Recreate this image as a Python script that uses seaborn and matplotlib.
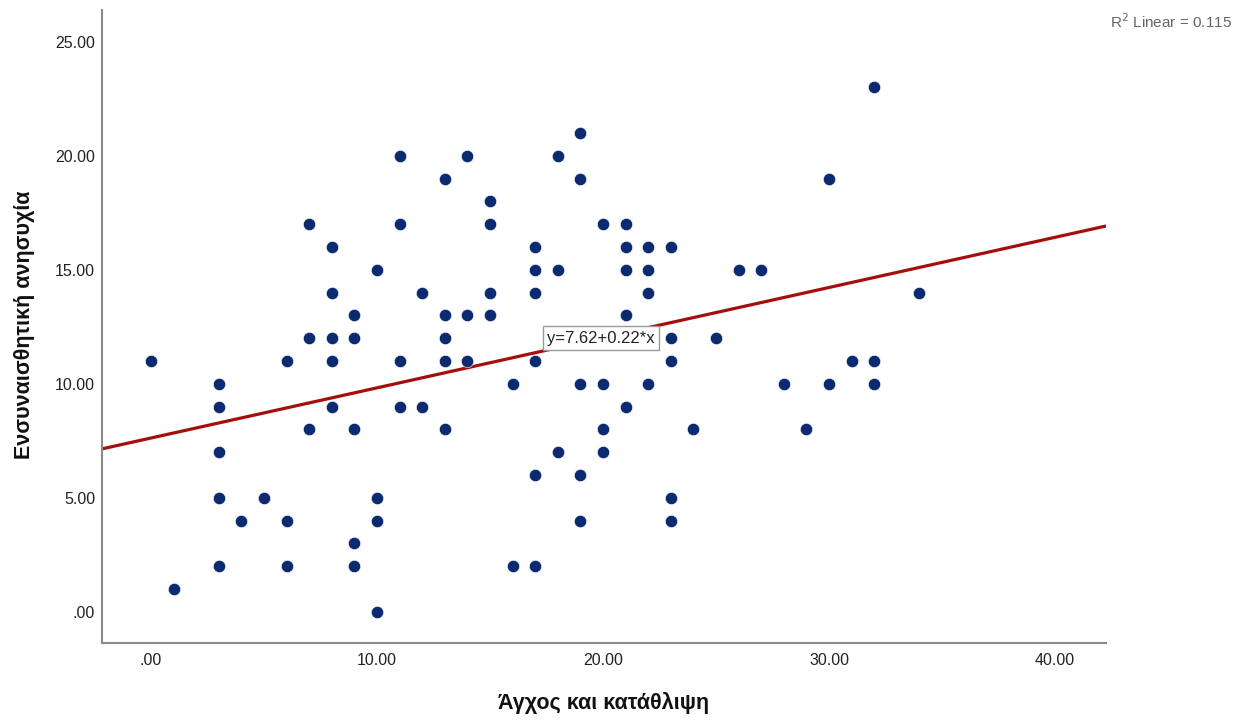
import matplotlib
matplotlib.use("Agg")
import matplotlib.pyplot as plt
import seaborn as sns
import pandas as pd
from matplotlib.ticker import FixedLocator, FixedFormatter

# ---- data ----
anxiety = (
    [0] + [1] + [3] * 5 + [4] + [5] + [6] * 3 + [7] * 3 + [8] * 5 + [9] * 5 +
    [10] * 4 + [11] * 4 + [12] * 2 + [13] * 5 + [14] * 3 + [15] * 4 + [16] * 2 +
    [17] * 6 + [18] * 3 + [19] * 5 + [20] * 4 + [21] * 5 + [22] * 4 + [23] * 5 +
    [24] + [25] + [26] + [27] + [28] + [29] + [30] * 2 + [31] + [32] * 3 + [34]
)
empathy = (
    [11] + [1] + [10, 9, 7, 5, 2] + [4] + [5] + [11, 4, 2] + [17, 12, 8] +
    [16, 14, 12, 11, 9] + [13, 12, 8, 3, 2] + [15, 5, 4, 0] + [20, 17, 11, 9] +
    [14, 9] + [19, 13, 12, 11, 8] + [20, 13, 11] + [18, 17, 14, 13] + [10, 2] +
    [16, 15, 14, 11, 6, 2] + [20, 15, 7] + [21, 19, 10, 6, 4] + [17, 10, 8, 7] +
    [17, 16, 15, 13, 9] + [16, 15, 14, 10] + [16, 12, 11, 5, 4] +
    [8] + [12] + [15] + [15] + [10] + [8] + [19, 10] + [11] + [23, 11, 10] + [14]
)
fit_intercept = 7.62
fit_slope = 0.22
x_ticks = [0, 10, 20, 30, 40]
x_tick_labels = [".00", "10.00", "20.00", "30.00", "40.00"]
y_ticks = [0, 5, 10, 15, 20, 25]
y_tick_labels = [".00", "5.00", "10.00", "15.00", "20.00", "25.00"]
x_label = "Άγχος και κατάθλιψη"
y_label = "Ενσυναισθητική ανησυχία"
equation_text = "y=7.62+0.22*x"
r2_text = "R$^2$ Linear = 0.115"

df = pd.DataFrame({"x": anxiety, "y": empathy})

sns.set_style("white")
plt.rcParams["font.family"] = ["Liberation Sans", "DejaVu Sans"]

fig = plt.figure(figsize=(12.46, 7.2), dpi=100)
ax = fig.add_axes([102 / 1246, 1 - 643 / 720, 1004 / 1246, 633 / 720])
XLIM = (-2.17, 42.26)
YLIM = (-1.37, 26.39)
ax.set_xlim(*XLIM)
ax.set_ylim(*YLIM)

sns.regplot(
    data=df, x="x", y="y", ax=ax, fit_reg=False,
    scatter_kws=dict(s=78, color="#0b2a6f", edgecolor="white", linewidths=0.4, alpha=1, zorder=3),
)
# SPSS fit line from its reported coefficients
ax.axline((0, fit_intercept), slope=fit_slope, color="#a80d0d", linewidth=2.3, zorder=2)
ax.set_xlim(*XLIM)
ax.set_ylim(*YLIM)

ax.xaxis.set_major_locator(FixedLocator(x_ticks))
ax.xaxis.set_major_formatter(FixedFormatter(x_tick_labels))
ax.yaxis.set_major_locator(FixedLocator(y_ticks))
ax.yaxis.set_major_formatter(FixedFormatter(y_tick_labels))
ax.tick_params(axis="both", length=0, labelsize=11.5, labelcolor="#222222")
ax.tick_params(axis="x", pad=7)
ax.tick_params(axis="y", pad=5)

for side in ["top", "right"]:
    ax.spines[side].set_visible(False)
for side in ["left", "bottom"]:
    ax.spines[side].set_color("#8a8a8a")
    ax.spines[side].set_linewidth(1.5)

ax.set_xlabel(x_label, fontsize=15.5, fontweight="bold", color="#111111", va="center")
ax.xaxis.set_label_coords(0.4995, -0.0948)
ax.set_ylabel(y_label, fontsize=15.5, fontweight="bold", color="#111111", va="center")
ax.yaxis.set_label_coords(-0.0768, 0.502)

ax.text(19.9, 12.0, equation_text, ha="center", va="center", fontsize=12,
        color="#222222", zorder=5,
        bbox=dict(boxstyle="square,pad=0.25", facecolor="white", edgecolor="#9a9a9a", linewidth=1))

fig.text(1232 / 1246, 1 - 22 / 720, r2_text, ha="right", va="center", fontsize=11, color="#666666")

fig.savefig("out.png", dpi=100)
